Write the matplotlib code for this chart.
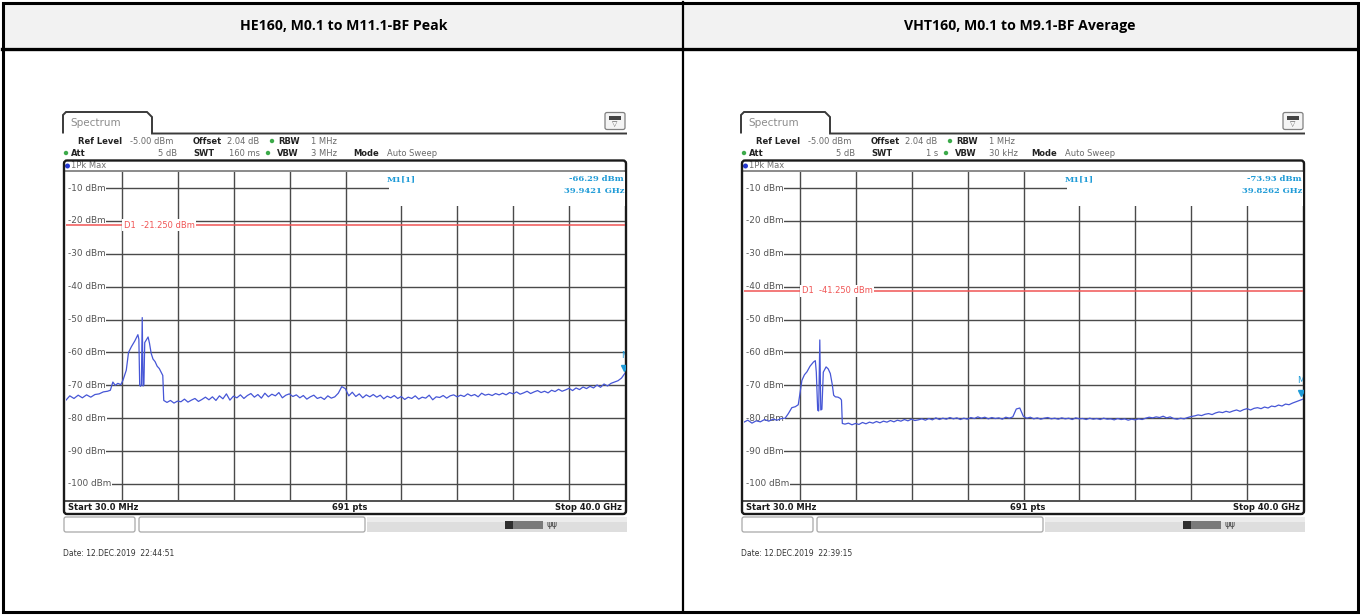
import matplotlib
matplotlib.use("Agg")
import matplotlib.pyplot as plt
from matplotlib import font_manager
from matplotlib.patches import FancyBboxPatch, Rectangle, PathPatch, Circle
from matplotlib.path import Path

W, H = 1360, 615
DX = 678  # horizontal shift of the right screenshot, px

TITLES = ["HE160, M0.1 to M11.1-BF Peak", "VHT160, M0.1 to M9.1-BF Average"]
SWT = ["160 ms", "1 s"]
VBW = ["3 MHz", "30 kHz"]
D1_LEVEL = [-21.25, -41.25]
D1_TEXT = ["D1  -21.250 dBm", "D1  -41.250 dBm"]
M1_FREQ = [39.9421, 39.8262]
M1_LEVEL = [-66.29, -73.93]
M1_LEVEL_TXT = ["-66.29 dBm", "-73.93 dBm"]
M1_FREQ_TXT = ["39.9421 GHz", "39.8262 GHz"]
DATES = ["Date: 12.DEC.2019  22:44:51", "Date: 12.DEC.2019  22:39:15"]
Y_LEVELS = [-10, -20, -30, -40, -50, -60, -70, -80, -90, -100]
F_START, F_STOP = 0.03, 40.0   # GHz
REF_TOP, REF_BOT = -5, -105    # dBm

# trace near the 5 GHz band (GHz, dBm)
PEAK_HEAD_F = [0.03, 0.3, 0.6, 0.9, 1.2, 1.5, 1.8, 2.1, 2.4, 2.7, 3.0, 3.2, 3.38, 3.55,
               3.74, 3.95, 4.1, 4.34, 4.5, 4.7, 4.95, 5.17, 5.24, 5.30, 5.36, 5.42, 5.48,
               5.54, 5.60, 5.66, 5.77, 5.9, 6.0, 6.12, 6.25, 6.4, 6.55, 6.7, 6.85, 6.95, 7.02]
PEAK_HEAD_DB = [-74.5, -73.2, -74.0, -73.0, -73.8, -72.9, -73.6, -72.8, -72.6, -72.0, -71.8,
                -71.5, -69.0, -70.0, -69.4, -69.8, -68.5, -65.4, -60.0, -58.3, -56.5, -54.6,
                -56.0, -70.0, -70.3, -69.8, -49.4, -70.2, -69.9, -57.0, -56.2, -55.3, -57.2,
                -60.3, -62.0, -62.8, -64.2, -64.9, -66.2, -67.0, -74.6]
AVG_HEAD_F = [0.03, 0.3, 0.6, 0.9, 1.2, 1.5, 1.8, 2.1, 2.4, 2.7, 2.97, 3.2, 3.45, 3.7, 3.91,
              4.05, 4.17, 4.35, 4.53, 4.75, 5.0, 5.13, 5.2, 5.3, 5.37, 5.45, 5.52, 5.6, 5.7,
              5.9, 6.05, 6.2, 6.35, 6.44, 6.56, 6.75, 6.92, 7.0, 7.06]
AVG_HEAD_DB = [-81.2, -80.6, -81.5, -80.8, -81.1, -80.4, -80.9, -80.3, -80.6, -80.1, -80.0,
               -78.6, -76.8, -76.5, -75.9, -72.0, -68.5, -66.8, -65.9, -64.2, -62.9, -62.5,
               -66.0, -77.6, -77.8, -56.2, -77.5, -77.3, -66.0, -64.4, -65.0, -66.4, -70.0,
               -73.0, -73.5, -73.6, -74.0, -74.5, -81.6]

# noise floor, one reading every 0.25 GHz from 7.25 GHz to 40 GHz
FLOOR_START, FLOOR_STEP = 7.25, 0.25
PEAK_FLOOR = [
    -75.2, -74.6, -75.4, -74.8, -75.0, -74.2, -75.1, -74.5, -74.0, -74.9, -74.3, -73.6,
    -74.4, -73.5, -74.6, -73.2, -74.1, -72.6, -74.5, -73.3, -73.8, -72.9, -74.0, -73.1,
    -72.5, -73.6, -72.8, -73.9, -72.4, -73.5, -72.7, -73.2, -72.2, -73.8, -73.0, -72.6,
    -73.4, -72.9, -73.8, -73.1, -74.2, -73.5, -73.0, -74.0, -73.6, -74.3, -73.2, -73.9,
    -73.5, -72.4, -70.4, -71.0, -73.2, -72.1, -73.4, -72.6, -73.8, -72.9, -73.5, -72.8,
    -73.6, -73.0, -74.1, -73.3, -73.8, -73.1, -74.0, -73.4, -74.3, -73.6, -74.0, -73.2,
    -74.2, -73.6, -73.9, -73.0, -74.4, -73.5, -73.7, -73.1, -73.9, -73.2, -72.9, -73.5,
    -73.0, -73.4, -72.6, -73.2, -72.8, -73.5, -72.4, -73.0, -72.7, -73.1, -72.5, -72.9,
    -72.4, -72.9, -72.2, -72.6, -72.0, -72.7, -72.3, -71.8, -72.5, -72.0, -71.6, -72.2,
    -71.8, -72.3, -71.5, -71.9, -71.2, -71.8, -71.4, -70.9, -71.6, -70.8, -71.3, -70.5,
    -71.0, -70.3, -70.8, -69.9, -70.6, -69.6, -70.2, -69.4, -69.0, -68.6, -67.8, -66.3]
AVG_FLOOR = [
    -81.8, -81.5, -82.0, -81.6, -81.9, -81.3, -81.7, -81.2, -81.5, -81.0, -81.4, -80.9,
    -81.2, -80.7, -81.1, -80.6, -80.9, -80.4, -80.8, -80.3, -80.7, -80.5, -80.2, -80.6,
    -80.1, -80.5, -79.9, -80.4, -80.0, -80.3, -79.8, -80.2, -79.9, -80.4, -80.0, -80.3,
    -79.8, -80.1, -79.6, -80.0, -79.7, -80.2, -79.8, -80.1, -79.9, -80.3, -79.7, -80.0,
    -79.6, -77.2, -76.9, -79.4, -80.0, -79.7, -80.2, -79.9, -80.3, -80.0, -79.8, -80.2,
    -80.0, -80.3, -79.9, -80.2, -80.0, -80.4, -79.9, -80.2, -80.1, -80.4, -80.0, -80.3,
    -80.1, -80.4, -80.0, -80.3, -80.2, -80.5, -80.1, -80.4, -80.2, -80.6, -80.3, -80.5,
    -80.2, -80.4, -80.0, -79.7, -79.9, -79.6, -79.8, -79.4, -79.9, -79.6, -80.1, -80.3,
    -80.0, -80.2, -79.8, -79.5, -79.3, -79.0, -79.2, -78.8, -78.6, -78.9, -78.4, -78.1,
    -78.3, -77.9, -78.2, -77.8, -77.5, -77.9, -77.4, -77.1, -77.5, -77.0, -76.8, -77.1,
    -76.6, -76.9, -76.3, -76.5, -76.0, -76.3, -75.7, -75.9, -75.4, -75.0, -74.6, -74.2]

TRACE_C = "#4656d6"
MARK_C = "#1f9bd7"
RED = "#f05555"
GRID_C = "#4a4a4a"

names = {f.name for f in font_manager.fontManager.ttflist}
TITLE_FONT = "Liberation Sans Narrow" if "Liberation Sans Narrow" in names else "Open Sans"


def trace(head_f, head_db, floor):
    f = list(head_f) + [FLOOR_START + FLOOR_STEP * i for i in range(len(floor))]
    return f, list(head_db) + list(floor)


TRACES = [trace(PEAK_HEAD_F, PEAK_HEAD_DB, PEAK_FLOOR),
          trace(AVG_HEAD_F, AVG_HEAD_DB, AVG_FLOOR)]


def txt(ax, x, y, s, size=6, bold=False, color="#222", **kw):
    ax.text(x, y, s, fontsize=size, fontweight="bold" if bold else "normal",
            color=color, va="center", **kw)


def draw_screen(bg, ox, i):
    # tab + header line
    tab = Path([(63 + ox, 133.5), (63 + ox, 115), (66 + ox, 112), (147 + ox, 112),
                (152 + ox, 117), (152 + ox, 133.5), (627 + ox, 133.5)])
    bg.add_patch(PathPatch(tab, fill=False, ec="#3a3a3a", lw=1.4))
    txt(bg, 70 + ox, 123, "Spectrum", size=7.5, color="#8c8c8c")
    bg.add_patch(FancyBboxPatch((605 + ox, 112.5), 20, 17, boxstyle="round,pad=0,rounding_size=2",
                                fc="#f4f4f4", ec="#808080", lw=0.9))
    bg.add_patch(Rectangle((609 + ox, 116), 12, 4, fc="#444", ec="none"))
    bg.text(615 + ox, 124.5, "▽", fontsize=5, color="#555", ha="center", va="center")

    # settings lines
    row1, row2 = 141, 153
    txt(bg, 78 + ox, row1, "Ref Level", bold=True)
    txt(bg, 130 + ox, row1, "-5.00 dBm", color="#6a6a6a")
    txt(bg, 193 + ox, row1, "Offset", bold=True)
    txt(bg, 227 + ox, row1, "2.04 dB", color="#6a6a6a")
    bg.add_patch(Circle((272 + ox, row1), 2.2, fc="#3caa4a", ec="none"))
    txt(bg, 278 + ox, row1, "RBW", bold=True)
    txt(bg, 311 + ox, row1, "1 MHz", color="#6a6a6a")
    bg.add_patch(Circle((66 + ox, row2), 2.2, fc="#3caa4a", ec="none"))
    txt(bg, 71 + ox, row2, "Att", bold=True)
    txt(bg, 177 + ox, row2, "5 dB", color="#6a6a6a", ha="right")
    txt(bg, 193 + ox, row2, "SWT", bold=True)
    txt(bg, 260 + ox, row2, SWT[i], color="#6a6a6a", ha="right")
    bg.add_patch(Circle((268 + ox, row2), 2.2, fc="#3caa4a", ec="none"))
    txt(bg, 277 + ox, row2, "VBW", bold=True)
    txt(bg, 311 + ox, row2, VBW[i], color="#6a6a6a")
    txt(bg, 353 + ox, row2, "Mode", bold=True)
    txt(bg, 387 + ox, row2, "Auto Sweep", color="#6a6a6a")

    # diagram frame
    bg.add_patch(FancyBboxPatch((64 + ox, 160.5), 562, 353.5, boxstyle="round,pad=0,rounding_size=3",
                                fc="none", ec="#1a1a1a", lw=1.7, zorder=5))
    bg.plot([64 + ox, 626 + ox], [171, 171], color="#8a8a8a", lw=1.4)
    bg.plot([64 + ox, 626 + ox], [500.8, 500.8], color="#222", lw=1.1)
    bg.add_patch(Circle((67.5 + ox, 166), 2.5, fc="#2438d0", ec="none"))
    txt(bg, 71 + ox, 166, "1Pk Max", color="#707070")

    # footer
    txt(bg, 68 + ox, 507.5, "Start 30.0 MHz", bold=True, color="#1a1a1a")
    bg.text(350 + ox, 507.5, "691 pts", fontsize=6, fontweight="bold", color="#1a1a1a",
            ha="center", va="center")
    bg.text(622 + ox, 507.5, "Stop 40.0 GHz", fontsize=6, fontweight="bold", color="#1a1a1a",
            ha="right", va="center")

    # status bar
    for x0, w in [(64, 71), (139, 226)]:
        bg.add_patch(FancyBboxPatch((x0 + ox, 517), w, 15, boxstyle="round,pad=0,rounding_size=2",
                                    fc="white", ec="#a8a8a8", lw=0.9))
    bg.add_patch(Rectangle((367 + ox, 517), 260, 15, fc="#dedede", ec="none"))
    bg.add_patch(Rectangle((367 + ox, 517), 260, 5, fc="#ececec", ec="none"))
    bg.add_patch(Rectangle((505 + ox, 520.5), 8, 8, fc="#2e2e2e", ec="none"))
    bg.add_patch(Rectangle((513 + ox, 520.5), 30, 8, fc="#7a7a7a", ec="none"))
    bg.text(552 + ox, 524.5, "ψψ", fontsize=6, color="#444", ha="center", va="center")

    txt(bg, 63 + ox, 553, DATES[i], size=5.5, color="#333")


def draw_diagram(fig, bg, ox, i):
    x0, x1, y0, y1 = 66 + ox, 625 + ox, 171.6, 500.4
    ax = fig.add_axes([x0 / W, 1 - y1 / H, (x1 - x0) / W, (y1 - y0) / H])
    ax.set_xlim(F_START, F_STOP)
    ax.set_ylim(REF_BOT, REF_TOP)
    ax.set_axis_off()
    span = F_STOP - F_START
    for k in range(1, 10):
        ax.axvline(F_START + k * span / 10, color=GRID_C, lw=1.0, zorder=1)
    for lev in Y_LEVELS:
        ax.axhline(lev, xmin=0.02, color=GRID_C, lw=1.0, zorder=1)
        ax.text(0.004, lev, f"{lev} dBm", transform=ax.get_yaxis_transform(), fontsize=6.4,
                color="#555", va="center", ha="left", zorder=3,
                bbox=dict(fc="white", ec="none", pad=0.3))
    # marker table box hides the top-right grid
    ax.add_patch(Rectangle((F_START + 0.578 * span, -15.5), span, 11, fc="white",
                           ec="none", zorder=2))
    ax.axhline(D1_LEVEL[i], color=RED, lw=1.1, zorder=3.5)
    ax.text(F_START + 0.103 * span, D1_LEVEL[i], D1_TEXT[i], fontsize=6, color=RED,
            va="center", ha="left", zorder=4, bbox=dict(fc="white", ec="none", pad=1.0))
    f, db = TRACES[i]
    ax.plot(f, db, color=TRACE_C, lw=0.9, zorder=5)
    ax.plot([M1_FREQ[i]], [M1_LEVEL[i] + 1.6], marker="v", ms=5, color=MARK_C, zorder=6)
    ax.text(M1_FREQ[i] - 0.25, M1_LEVEL[i] + 5.5, "M1", fontsize=6, color=MARK_C,
            ha="left", va="center", zorder=6, clip_on=True)

    # marker table text (pixel coordinates of the background)
    for x, y, s, ha in [(387 + ox, 179, "M1[1]", "left"),
                        (624 + ox, 179, M1_LEVEL_TXT[i], "right"),
                        (624 + ox, 191, M1_FREQ_TXT[i], "right")]:
        ax.text(x, y, s, transform=bg.transData, fontsize=6, color=MARK_C, va="center",
                ha=ha, family="DejaVu Serif", fontweight="bold", zorder=7)


fig = plt.figure(figsize=(W / 100, H / 100), dpi=100)
bg = fig.add_axes([0, 0, 1, 1])
bg.set_xlim(0, W)
bg.set_ylim(H, 0)
bg.set_axis_off()

# table
bg.add_patch(Rectangle((3, 3), 1354, 44, fc="#f2f2f2", ec="none"))
bg.add_patch(Rectangle((2.5, 2.5), 1355, 609.5, fc="none", ec="black", lw=2.2))
bg.plot([2, 1358], [48.5, 48.5], color="black", lw=2.4)
bg.plot([683, 683], [2, 612], color="black", lw=1.6)
for i, cx in enumerate([343.5, 1020]):
    bg.text(cx, 26, TITLES[i], fontsize=10.2, fontweight="bold", family=TITLE_FONT,
            ha="center", va="center", color="black")

for i, ox in enumerate([0, DX]):
    draw_screen(bg, ox, i)
    draw_diagram(fig, bg, ox, i)

fig.savefig("out.png", dpi=100)
